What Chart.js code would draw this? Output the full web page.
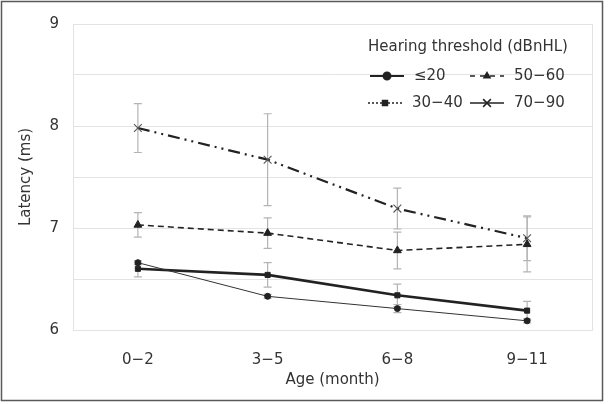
<!DOCTYPE html>
<html>
<head>
<meta charset="utf-8">
<script src="https://cdn.jsdelivr.net/npm/chart.js@4/dist/chart.umd.min.js"></script>
<style>
  html, body { margin: 0; padding: 0; background: #fff; }
  #wrap { width: 608px; height: 404px; position: relative; }
</style>
</head>
<body>
<div id="wrap"><canvas id="grafico" width="608" height="404"></canvas></div>
<script>
// dados
const idades = ['0−2', '3−5', '6−8', '9−11'];
const ate20 = [6.66, 6.33, 6.21, 6.09];
const ate20Erro = [0.02, 0.02, 0.04, 0.02];
const de30a40 = [6.60, 6.54, 6.34, 6.19];
const de30a40Erro = [0.08, 0.12, 0.11, 0.09];
const de50a60 = [7.03, 6.95, 6.78, 6.84];
const de50a60Erro = [0.12, 0.15, 0.18, 0.27];
const de70a90 = [7.98, 7.67, 7.19, 6.90];
const de70a90Erro = [0.24, 0.45, 0.20, 0.22];
const yTicks = [6, 7, 8, 9];

const fonte = 'DejaVu Sans';
const corTexto = '#333';
const corGrade = '#e3e3e3';

const erros = [ate20Erro, de30a40Erro, de50a60Erro, de70a90Erro];

// barras de erro desenhadas antes das linhas
const barrasErro = {
  id: 'barrasErro',
  beforeDatasetsDraw(chart) {
    const { ctx, scales: { x, y } } = chart;
    ctx.save();
    ctx.strokeStyle = '#b4b4b4';
    ctx.lineWidth = 1.2;
    chart.data.datasets.forEach((ds, i) => {
      ds.data.forEach((v, j) => {
        const e = erros[i][j];
        const px = x.getPixelForValue(j);
        const y1 = y.getPixelForValue(v + e);
        const y2 = y.getPixelForValue(v - e);
        ctx.beginPath();
        ctx.moveTo(px, y1); ctx.lineTo(px, y2);
        ctx.moveTo(px - 4, y1); ctx.lineTo(px + 4, y1);
        ctx.moveTo(px - 4, y2); ctx.lineTo(px + 4, y2);
        ctx.stroke();
      });
    });
    ctx.restore();
  }
};

// borda da área do gráfico, moldura externa e legenda
const moldura = {
  id: 'moldura',
  afterDraw(chart) {
    const { ctx, chartArea: a } = chart;
    ctx.save();
    ctx.strokeStyle = corGrade;
    ctx.lineWidth = 1;
    ctx.strokeRect(a.left + 0.5, a.top + 0.5, a.right - a.left, a.bottom - a.top);
    ctx.strokeStyle = '#5a5a5a';
    ctx.lineWidth = 1.5;
    ctx.strokeRect(1.5, 1.5, 601, 399);

    ctx.fillStyle = corTexto;
    ctx.font = '15px "' + fonte + '"';
    ctx.textBaseline = 'middle';
    ctx.textAlign = 'left';
    ctx.fillText('Hearing threshold (dBnHL)', 368, 47);

    const itens = [
      { texto: '≤20', x: 370, y: 76, dash: [], lw: 2, marca: 'circle' },
      { texto: '50−60', x: 470, y: 76, dash: [5, 5], lw: 1.5, marca: 'triangle' },
      { texto: '30−40', x: 368, y: 103, dash: [2, 2], lw: 1.5, marca: 'rect' },
      { texto: '70−90', x: 470, y: 103, dash: [], lw: 1.5, marca: 'crossRot' }
    ];
    itens.forEach(it => {
      ctx.strokeStyle = '#222';
      ctx.lineWidth = it.lw;
      ctx.setLineDash(it.dash);
      ctx.beginPath();
      ctx.moveTo(it.x, it.y); ctx.lineTo(it.x + 34, it.y);
      ctx.stroke();
      ctx.setLineDash([]);
      ctx.fillStyle = '#222';
      Chart.helpers.drawPoint(ctx, {
        pointStyle: it.marca, radius: it.marca === 'crossRot' ? 5.5 : 3.5, borderWidth: 1.2
      }, it.x + 17, it.y);
      ctx.fillStyle = corTexto;
      ctx.fillText(it.texto, it.x + 44, it.y);
    });
    ctx.restore();
  }
};

function serie(label, data, extra) {
  return Object.assign({
    label, data,
    borderColor: '#222',
    backgroundColor: '#222',
    pointBackgroundColor: '#222',
    pointBorderColor: '#222',
    pointBorderWidth: 1,
    tension: 0,
    fill: false
  }, extra);
}

new Chart(document.getElementById('grafico'), {
  type: 'line',
  data: {
    labels: idades,
    datasets: [
      serie('≤20', ate20, { borderWidth: 1, pointStyle: 'circle', pointRadius: 3, borderColor: '#333' }),
      serie('30−40', de30a40, { borderWidth: 2.6, pointStyle: 'rect', pointRadius: 3.6 }),
      serie('50−60', de50a60, { borderWidth: 1.6, borderDash: [6, 4], pointStyle: 'triangle', pointRadius: 4.5 }),
      serie('70−90', de70a90, { borderWidth: 2.2, borderDash: [12, 5, 2, 5, 2, 5], pointStyle: 'crossRot', pointRadius: 5.5, pointBorderWidth: 1.1, pointBorderColor: '#555' })
    ]
  },
  options: {
    responsive: false,
    animation: false,
    layout: { padding: { left: 0, top: 24, right: 16, bottom: 0 } },
    plugins: { legend: { display: false }, tooltip: { enabled: false } },
    scales: {
      x: {
        offset: true,
        grid: { display: false },
        border: { display: false },
        ticks: { color: corTexto, font: { family: fonte, size: 15 }, padding: 13 },
        title: { display: true, text: 'Age (month)', color: corTexto, font: { family: fonte, size: 15 }, padding: { top: 0, bottom: 15 } },
        afterFit(s) { s.height = 74; }
      },
      y: {
        min: 6, max: 9,
        grid: { color: corGrade, drawTicks: false },
        border: { display: false },
        ticks: {
          stepSize: 0.5,
          color: corTexto,
          font: { family: fonte, size: 15 },
          padding: 14,
          callback: v => yTicks.includes(v) ? String(v) : ''
        },
        title: { display: true, text: 'Latency (ms)', color: corTexto, font: { family: fonte, size: 15 }, padding: { top: 17, bottom: 0 } },
        afterFit(s) { s.width = 73; }
      }
    }
  },
  plugins: [barrasErro, moldura]
});
</script>
</body>
</html>
